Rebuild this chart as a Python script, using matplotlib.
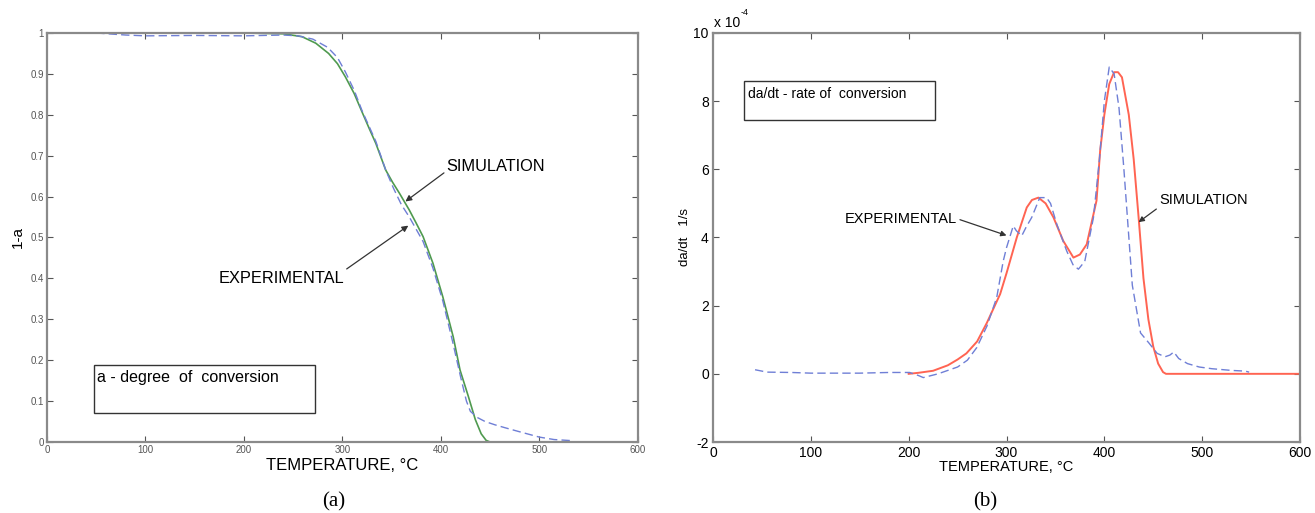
import matplotlib
matplotlib.use("Agg")
import matplotlib.pyplot as plt

plt.rcParams['font.family'] = ['Liberation Sans', 'DejaVu Sans']
plt.rcParams['axes.unicode_minus'] = False

# ---- Panel (a): 1 - a vs temperature ----
sim_a_T = [0, 100, 200, 240, 259, 273, 286, 295, 303, 312, 320.5, 327, 334, 344, 351, 358, 368, 375, 382, 392, 402, 412.6, 419.5, 428, 435, 441, 446, 450, 600]
sim_a_y = [1.0, 1.0, 1.0, 0.998, 0.991, 0.975, 0.950, 0.925, 0.893, 0.852, 0.804, 0.768, 0.730, 0.665, 0.635, 0.608, 0.567, 0.535, 0.502, 0.437, 0.355, 0.257, 0.176, 0.111, 0.055, 0.02, 0.004, 0.0, 0.0]

exp_a_T = [50, 80, 100, 150, 200, 240, 255, 270, 285, 295, 303, 312, 320, 334, 344, 352, 360, 368, 375, 382, 392, 402, 412, 420, 426, 430, 437, 445, 455, 465, 480, 500, 515, 535]
exp_a_y = [1.0, 0.995, 0.993, 0.994, 0.993, 0.995, 0.993, 0.985, 0.965, 0.94, 0.905, 0.86, 0.81, 0.735, 0.665, 0.62, 0.58, 0.55, 0.52, 0.49, 0.425, 0.345, 0.245, 0.16, 0.1, 0.075, 0.06, 0.05, 0.042, 0.035, 0.025, 0.012, 0.006, 0.003]

# ---- Panel (b): da/dt vs temperature (x 1e-4) ----
sim_b_T = [200, 210, 225, 240, 250, 259, 270, 280, 293.5, 300, 310.5, 320.7, 326, 332.6, 340, 348, 358, 368.4, 375, 382, 392, 395.7, 400, 405, 410, 414, 418, 425, 430, 435, 440, 445, 450, 455, 460, 463, 600]
sim_b_y = [0.0, 0.03, 0.09, 0.25, 0.42, 0.6, 0.95, 1.5, 2.34, 2.95, 4.0, 4.88, 5.1, 5.17, 5.0, 4.59, 3.9, 3.41, 3.5, 3.8, 5.08, 6.54, 7.6, 8.5, 8.85, 8.85, 8.7, 7.6, 6.3, 4.6, 2.8, 1.6, 0.8, 0.3, 0.05, 0.0, 0.0]

exp_b_T = [43, 50, 55, 80, 100, 150, 180, 201, 210, 215, 230, 250, 260, 269.6, 280, 290, 296.6, 300, 306.9, 310, 315.6, 320, 325.8, 334, 340.9, 345, 351.4, 361.6, 368, 373.5, 380, 388.9, 395, 400, 405, 410, 415, 420, 428.6, 437, 445.7, 454, 462, 467, 471, 476, 485, 497, 510, 530, 544, 548]
exp_b_y = [0.12, 0.08, 0.05, 0.04, 0.02, 0.02, 0.04, 0.04, -0.05, -0.11, 0.0, 0.2, 0.4, 0.77, 1.4, 2.24, 3.3, 3.7, 4.34, 4.2, 4.05, 4.3, 4.59, 5.17, 5.17, 5.0, 4.39, 3.6, 3.2, 3.07, 3.3, 4.59, 6.3, 8.0, 9.0, 8.8, 7.8, 6.0, 2.6, 1.2, 0.9, 0.6, 0.5, 0.55, 0.64, 0.45, 0.3, 0.2, 0.15, 0.1, 0.08, 0.05]

a_yticks = [0, 0.1, 0.2, 0.3, 0.4, 0.5, 0.6, 0.7, 0.8, 0.9, 1]
a_ytick_labels = ['0', '0.1', '0.2', '0.3', '0.4', '0.5', '0.6', '0.7', '0.8', '0.9', '1']
xticks = [0, 100, 200, 300, 400, 500, 600]
b_yticks = [-2, 0, 2, 4, 6, 8, 10]

fig = plt.figure(figsize=(13.15, 5.13), dpi=100)
axA = fig.add_axes([0.0357, 0.1384, 0.4493, 0.7973])
axB = fig.add_axes([0.5422, 0.1384, 0.4464, 0.7973])

spine_col = '#8a8a8a'
for ax in (axA, axB):
    for s in ax.spines.values():
        s.set_color(spine_col)
        s.set_linewidth(1.6)
    ax.tick_params(direction='in', top=True, right=True, color='#555555', length=4, width=0.8)
    ax.set_xlim(0, 600)
    ax.set_xticks(xticks)

# Panel a
axA.plot(sim_a_T, sim_a_y, color='#4f9a4f', lw=1.2)
axA.plot(exp_a_T, exp_a_y, color='#6f7fd6', lw=1.0, ls=(0, (6, 3)))
axA.set_ylim(0, 1)
axA.set_yticks(a_yticks)
axA.set_yticklabels(a_ytick_labels)
axA.tick_params(labelsize=7, labelcolor='#555555', pad=2)
axA.set_xlabel('TEMPERATURE, \u00b0C', fontsize=12, labelpad=2)
axA.set_ylabel('1-a', fontsize=11, labelpad=4)
axA.annotate('SIMULATION', xy=(364, 0.588), xytext=(406, 0.674), fontsize=11.8,
             va='center', ha='left',
             arrowprops=dict(arrowstyle='-|>', color='#333333', lw=0.9, mutation_scale=9, shrinkA=0, shrinkB=0,
                             relpos=(0.0, 0.2)))
axA.annotate('EXPERIMENTAL', xy=(367, 0.529), xytext=(174, 0.40), fontsize=11.8,
             va='center', ha='left',
             arrowprops=dict(arrowstyle='-|>', color='#333333', lw=0.9, mutation_scale=9, shrinkA=0, shrinkB=0,
                             relpos=(1.0, 1.0)))
axA.add_patch(plt.Rectangle((48, 0.071), 224, 0.118, fill=False, edgecolor='#333333', lw=1.0))
axA.text(51, 0.158, 'a - degree  of  conversion', fontsize=11.5, va='center', ha='left')

# Panel b
axB.plot(sim_b_T, sim_b_y, color='#ff6452', lw=1.4)
axB.plot(exp_b_T, exp_b_y, color='#6f7fd6', lw=1.0, ls=(0, (6, 3)))
axB.set_ylim(-2, 10)
axB.set_yticks(b_yticks)
axB.tick_params(labelsize=10, pad=3)
axB.set_xlabel('TEMPERATURE, \u00b0C', fontsize=10.5, labelpad=0)
axB.set_ylabel('da/dt   1/s', fontsize=9.5, labelpad=2)
axB.text(0.002, 1.008, 'x 10', transform=axB.transAxes, fontsize=10, ha='left', va='bottom')
axB.text(0.047, 1.038, '-4', transform=axB.transAxes, fontsize=6.5, ha='left', va='bottom')
axB.add_patch(plt.Rectangle((32, 7.46), 195, 1.14, fill=False, edgecolor='#333333', lw=1.0))
axB.text(36, 8.2, 'da/dt - rate of  conversion', fontsize=10, va='center', ha='left')
axB.annotate('EXPERIMENTAL', xy=(300, 4.06), xytext=(135, 4.55), fontsize=10.5,
             va='center', ha='left',
             arrowprops=dict(arrowstyle='-|>', color='#333333', lw=0.9, mutation_scale=8, shrinkA=0, shrinkB=0,
                             relpos=(1.0, 0.5)))
axB.annotate('SIMULATION', xy=(435, 4.45), xytext=(456, 5.1), fontsize=10.5,
             va='center', ha='left',
             arrowprops=dict(arrowstyle='-|>', color='#333333', lw=0.9, mutation_scale=8, shrinkA=0, shrinkB=0,
                             relpos=(0.0, 0.0)))

fig.text(0.254, 0.021, '(a)', fontsize=15, family='Liberation Serif', ha='center', va='center')
fig.text(0.749, 0.021, '(b)', fontsize=15, family='Liberation Serif', ha='center', va='center')

fig.savefig('out.png', dpi=100)
